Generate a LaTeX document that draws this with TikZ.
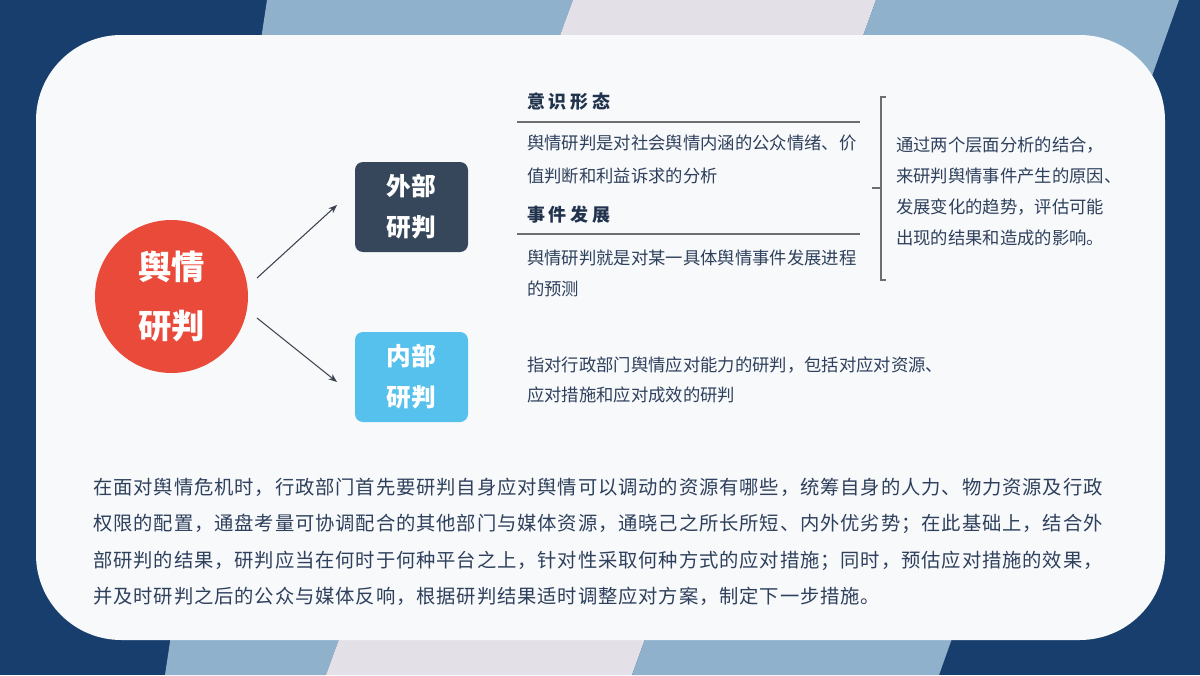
\documentclass[tikz,border=0pt]{standalone}
\usepackage{fontspec}
\setmainfont{Noto Sans CJK SC}
\usetikzlibrary{arrows.meta}
\definecolor{navy}{HTML}{173E6D}
\definecolor{stripeblue}{HTML}{8FB1CB}
\definecolor{stripepale}{HTML}{E3E1E7}
\definecolor{cardbg}{HTML}{F8F9FB}
\definecolor{redc}{HTML}{EA4A3A}
\definecolor{darkbox}{HTML}{36475B}
\definecolor{lightbox}{HTML}{56C1EC}
\definecolor{txt}{HTML}{2E405C}
\definecolor{headc}{HTML}{22334E}
\definecolor{rulec}{HTML}{6E6E72}
\definecolor{arrowc}{HTML}{3B4350}
\begin{document}
\begin{tikzpicture}[x=0.75pt,y=-0.75pt,
  body/.style={anchor=base west, inner sep=0pt, text=txt, font=\fontsize{13}{13}\selectfont},
  para/.style={anchor=base west, inner sep=0pt, text=txt, font=\fontsize{14.5}{14.5}\selectfont\addfontfeature{LetterSpace=4.5}},
  head/.style={anchor=base west, inner sep=0pt, text=headc, font=\fontsize{13.5}{13.5}\selectfont\bfseries\addfontfeature{LetterSpace=20}},
  sqbox/.style={rounded corners=6pt, minimum width=84.75pt, minimum height=67.5pt, inner sep=0pt, text=white, align=center, font=\fontsize{18.5}{30.75}\selectfont\bfseries},
  rulel/.style={draw=rulec, line width=1.5pt},
  conn/.style={draw=arrowc, line width=0.8pt, -{Stealth[length=6.5pt,width=5pt]}},
  brk/.style={draw=rulec, line width=0.8pt}
  ]
\useasboundingbox (0,0) rectangle (1200,675);
% background
\fill[navy] (0,0) rectangle (1200,675);
\fill[stripeblue] (267,0) -- (573,0) -- (326,675) -- (165,675) -- cycle;
\fill[stripepale] (573,0) -- (876,0) -- (632,675) -- (326,675) -- cycle;
\fill[stripeblue] (876,0) -- (1179,0) -- (939,675) -- (632,675) -- cycle;
% card
\fill[cardbg, rounded corners=64pt] (36,35) rectangle (1165,640);

% circle
\node[circle, fill=redc, minimum size=114.75pt, inner sep=0pt, text=white, align=center,
  font=\fontsize{25}{44}\selectfont\bfseries] (core) at (171.5,296.5) {舆情\\研判};
% boxes
\node[sqbox, fill=darkbox] (ext) at (411.5,207) {外部\\研判};
\node[sqbox, fill=lightbox] (int) at (411.5,377) {内部\\研判};
% arrows
\coordinate (a1s) at (257,278);
\coordinate (a1e) at (337,205);
\coordinate (a2s) at (257,318);
\coordinate (a2e) at (337,382);
\draw[conn] (a1s) -- (a1e);
\draw[conn] (a2s) -- (a2e);

% external texts
\node[head] (h1) at (527,108.8) {意识形态};
\coordinate (r1a) at (517,121.5);
\coordinate (r1b) at (860,121.5);
\draw[rulel] (r1a) -- (r1b);
\node[body] (d1a) at (527,149.6) {舆情研判是对社会舆情内涵的公众情绪、价};
\node[body] (d1b) at (527,182.6) {值判断和利益诉求的分析};
\node[head] (h2) at (527,221.8) {事件发展};
\coordinate (r2a) at (517,234);
\coordinate (r2b) at (860,234);
\draw[rulel] (r2a) -- (r2b);
\node[body] (d2a) at (527,264.6) {舆情研判就是对某一具体舆情事件发展进程};
\node[body] (d2b) at (527,295.6) {的预测};

% bracket
\coordinate (bt1) at (886,97);
\coordinate (bt2) at (881,97);
\coordinate (bb2) at (881,280);
\coordinate (bb1) at (886,280);
\coordinate (bm1) at (881,188);
\coordinate (bm2) at (872,188);
\draw[brk] (bt1) -- (bt2) -- (bb2) -- (bb1);
\draw[brk] (bm1) -- (bm2);

\node[body] (s1) at (896,151.6) {通过两个层面分析的结合，};
\node[body] (s2) at (896,182.6) {来研判舆情事件产生的原因、};
\node[body] (s3) at (896,213.6) {发展变化的趋势，评估可能};
\node[body] (s4) at (896,244.6) {出现的结果和造成的影响。};

% internal text
\node[body] (i1) at (527,371.6) {指对行政部门舆情应对能力的研判，包括对应对资源、};
\node[body] (i2) at (527,401.6) {应对措施和应对成效的研判};

% paragraph
\node[para] (p1) at (93,494.3) {在面对舆情危机时，行政部门首先要研判自身应对舆情可以调动的资源有哪些，统筹自身的人力、物力资源及行政};
\node[para] (p2) at (93,530.8) {权限的配置，通盘考量可协调配合的其他部门与媒体资源，通晓己之所长所短、内外优劣势；在此基础上，结合外};
\node[para] (p3) at (93,567.3) {部研判的结果，研判应当在何时于何种平台之上，针对性采取何种方式的应对措施；同时，预估应对措施的效果，};
\node[para] (p4) at (93,603.8) {并及时研判之后的公众与媒体反响，根据研判结果适时调整应对方案，制定下一步措施。};
\end{tikzpicture}
\end{document}
